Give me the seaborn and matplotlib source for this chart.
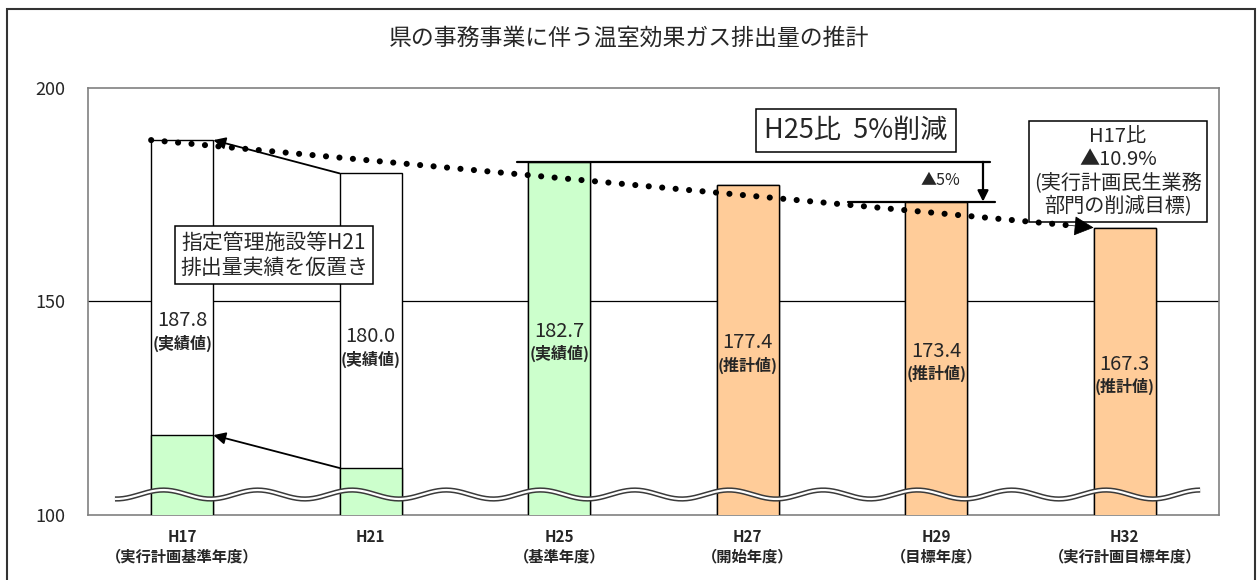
import matplotlib
matplotlib.use("Agg")
import matplotlib.pyplot as plt
import matplotlib.patches as mpatches
import numpy as np
import pandas as pd
import seaborn as sns

# values
periods = ["H17", "H21", "H25", "H27", "H29", "H32"]
period_notes = ["（実行計画基準年度）", "", "（基準年度）", "（開始年度）", "（目標年度）", "（実行計画目標年度）"]
totals = [187.8, 180.0, 182.7, 177.4, 173.4, 167.3]
value_kinds = ["実績値", "実績値", "実績値", "推計値", "推計値", "推計値"]
# H17 / H21: only the lower part is measured, the rest is the H21 figure carried over
measured_part = [118.7, 111.0, 182.7, 177.4, 173.4, 167.3]
upper_colors = ["white", "white", "#CCFFCC", "#FFCC99", "#FFCC99", "#FFCC99"]
lower_colors = ["#CCFFCC", "#CCFFCC", "#CCFFCC", "#FFCC99", "#FFCC99", "#FFCC99"]

title = "県の事務事業に伴う温室効果ガス排出量の推計"
note_left = "指定管理施設等H21\n排出量実績を仮置き"
note_target = "H25比  5%削減"
note_right = "H17比\n▲10.9%\n(実行計画民生業務\n部門の削減目標)"
note_step = "▲5%"

sns.set_theme(style="white")
plt.rcParams["font.family"] = ["Noto Sans CJK JP", "DejaVu Sans"]

df = pd.DataFrame({
    "period": periods,
    "total": totals,
    "measured": measured_part,
})

fig = plt.figure(figsize=(12.58, 5.8), dpi=100)
ax = fig.add_axes([88 / 1258, 1 - 515 / 580, 1131 / 1258, 427 / 580])

bar_w = 0.33
sns.barplot(data=df, x="period", y="total", hue="period", palette=upper_colors, saturation=1,
            width=bar_w, edgecolor="black", linewidth=1, legend=False, ax=ax, zorder=2)
sns.barplot(data=df, x="period", y="measured", hue="period", palette=lower_colors, saturation=1,
            width=bar_w, edgecolor="black", linewidth=1, legend=False, ax=ax, zorder=3)

ax.set_xlim(-0.5, 5.5)
ax.set_ylim(100, 200)
ax.set_yticks([100, 150, 200])
ax.tick_params(axis="y", length=0, pad=16, labelsize=13)
ax.set_xticks(range(len(periods)))
ax.set_xticklabels([p + ("\n" + n if n else "") for p, n in zip(periods, period_notes)],
                   fontsize=11, fontweight="bold", linespacing=1.3)
ax.tick_params(axis="x", length=0, pad=10)
ax.set_xticks(np.arange(0.5, 5.5, 1), minor=True)
ax.tick_params(axis="x", which="minor", direction="in", length=4, color="#555555")
ax.set_xlabel("")
ax.set_ylabel("")
ax.axhline(150, color="black", lw=0.9, zorder=1)
for s in ax.spines.values():
    s.set_color("#808080")
    s.set_linewidth(1.2)

# value labels inside bars
for i, (v, k) in enumerate(zip(totals, value_kinds)):
    mid = (v + 100) / 2 - 1
    ax.text(i, mid + 2.7, f"{v:.1f}", ha="center", va="center", fontsize=14.5, zorder=6)
    ax.text(i, mid - 2.6, f"({k})", ha="center", va="center", fontsize=11.5,
            fontweight="bold", zorder=6)

# dotted trend line H17 -> H32 with arrow head
x0, y0 = -bar_w / 2, totals[0]
x1, y1 = 5 - bar_w / 2, totals[5]
slope = (y0 - y1) / (x1 - x0)
ax.plot([x0, x1 - 0.07], [y0, y1 + slope * 0.07], color="black", lw=4.4,
        linestyle=(0, (0.01, 2.2)), dash_capstyle="round", zorder=7)
ax.annotate("", xy=(x1, y1), xytext=(x1 - 0.14, y1 + slope * 0.14),
            arrowprops=dict(arrowstyle="-|>", color="black", lw=0.5, mutation_scale=32,
                            shrinkA=0, shrinkB=0), zorder=7)

# arrows from H21 back to H17
for top in (totals, measured_part):
    ax.annotate("", xy=(bar_w / 2, top[0]), xytext=(1 - bar_w / 2, top[1]),
                arrowprops=dict(arrowstyle="-|>", color="black", lw=1.3, mutation_scale=18,
                                shrinkA=0, shrinkB=0), zorder=8)

# 5% reduction bracket
ax.plot([1.776, 4.285], [totals[2], totals[2]], color="black", lw=1.6, zorder=5)
ax.plot([3.532, 4.312], [totals[4], totals[4]], color="black", lw=1.6, zorder=5)
ax.annotate("", xy=(4.248, totals[4]), xytext=(4.248, totals[2]),
            arrowprops=dict(arrowstyle="-|>", color="black", lw=1.6, mutation_scale=16,
                            shrinkA=0, shrinkB=0), zorder=5)
ax.text(4.13, 178.4, note_step, ha="right", va="center", fontsize=11.5)

# text boxes
box = dict(boxstyle="square,pad=0.3", facecolor="white", edgecolor="black", lw=1.1)
ax.text(3.574, 190.0, note_target, ha="center", va="center", fontsize=19.5, bbox=box, zorder=9)
ax.text(4.964, 180.4, note_right, ha="center", va="center", fontsize=14.5, linespacing=1.15,
        bbox=dict(boxstyle="square,pad=0.25", facecolor="white", edgecolor="black", lw=1.1),
        zorder=6)
ax.text(0.487, 160.8, note_left, ha="center", va="center", fontsize=15, linespacing=1.2,
        bbox=dict(boxstyle="square,pad=0.25", facecolor="white", edgecolor="black", lw=1.1),
        zorder=9)

# axis break wave
wx = np.linspace(-0.357, 5.40, 800)
wy = 104.8 + 1.05 * np.cos(2 * np.pi * (wx + 0.1) / 0.5)
ax.plot(wx, wy, color="#3a3a3a", lw=3.8, solid_capstyle="butt", zorder=10)
ax.plot(wx, wy, color="white", lw=1.6, solid_capstyle="butt", zorder=11)

fig.text(0.5, 1 - 38 / 580, title, ha="center", va="center", fontsize=16.5)

# outer chart frame
fig.patches.append(mpatches.Rectangle((7 / 1258, -0.02), 1248 / 1258, 1.0045, fill=False,
                                      edgecolor="#333333", lw=1.5, transform=fig.transFigure))

fig.savefig("out.png", dpi=100)
